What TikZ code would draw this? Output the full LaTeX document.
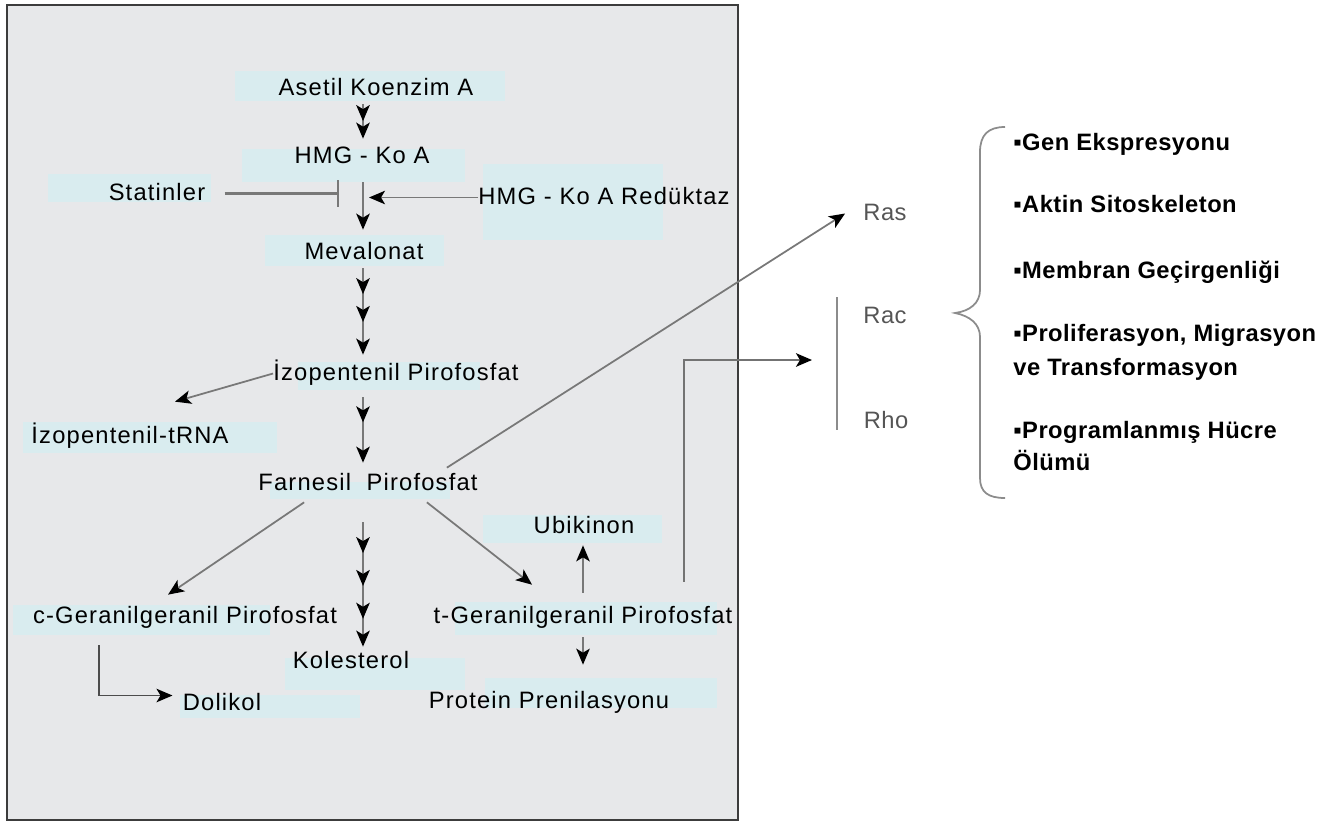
\documentclass[tikz,border=0pt]{standalone}
\usepackage{fontspec}
\usetikzlibrary{arrows.meta,decorations.markings}
\newfontfamily\lblfont{Liberation Sans}[LetterSpace=5]
\newfontfamily\sidefont{Liberation Sans}[LetterSpace=2]
\definecolor{pagegray}{RGB}{231,232,234}
\definecolor{patchcyan}{RGB}{217,236,239}
\definecolor{linegray}{RGB}{120,120,120}
\definecolor{framegray}{RGB}{60,60,60}
\definecolor{smallgray}{RGB}{85,85,85}
\definecolor{bracegray}{RGB}{140,140,140}

\tikzset{
  pathhead/.tip={Stealth[length=0.32cm,width=0.27cm,inset=0.08cm,black]},
  lbl/.style={font=\lblfont\fontsize{13.5}{16}\selectfont, inner sep=0pt,
    text height=0.34cm, text depth=0.08cm, anchor=base},
  gtp/.style={lbl, font=\sidefont\fontsize{13.5}{16}\selectfont, text=smallgray},
  effect/.style={inner sep=0pt, anchor=base west,
    font=\sidefont\bfseries\fontsize{13.5}{16}\selectfont},
  patch/.style={fill=patchcyan},
  conn/.style={draw=linegray, line width=1pt, -pathhead},
  heads/.style={conn, line width=1.1pt, postaction={decorate}, decoration={markings, #1}},
  inhibit/.style={draw=linegray, line width=1.2pt, -{Bar[width=0.54cm]}},
}

\begin{document}
\begin{tikzpicture}[x=0.02cm,y=-0.02cm]
  \useasboundingbox (0,0) rectangle (1337,825);
  \draw[framegray, line width=1.3pt, fill=pagegray] (7,5) rectangle (738,820);

  % label patches
  \fill[patch] (235,71) rectangle (505,101);
  \fill[patch] (242,149) rectangle (465,182);
  \fill[patch] (48,174) rectangle (211,202);
  \fill[patch] (483,164) rectangle (663,240);
  \fill[patch] (265,235) rectangle (444,266);
  \fill[patch] (298,362) rectangle (480,390);
  \fill[patch] (23,422) rectangle (277,453);
  \fill[patch] (270,482) rectangle (450,499);
  \fill[patch] (483,515) rectangle (662,543);
  \fill[patch] (13,605) rectangle (270,635);
  \fill[patch] (455,602) rectangle (717,635);
  \fill[patch] (285,658) rectangle (465,690);
  \fill[patch] (180,695) rectangle (360,718);
  \fill[patch] (485,678) rectangle (717,708);

  \node[lbl] (acetyl) at (376,95) {Asetil Koenzim A};
  \node[lbl] (hmgcoa) at (362,163) {HMG - Ko A};
  \node[lbl] (statin) at (157,200) {Statinler};
  \node[lbl] (reductase) at (604,204) {HMG - Ko A Redüktaz};
  \node[lbl] (meval) at (364,259) {Mevalonat};
  \node[lbl] (ipp) at (396,380) {İzopentenil Pirofosfat};
  \node[lbl] (iptrna) at (130,443) {İzopentenil-tRNA};
  \node[lbl] (fpp) at (368,490) {Farnesil\ \ Pirofosfat};
  \node[lbl] (ubiq) at (584,533) {Ubikinon};
  \node[lbl] (cggpp) at (185,623) {c-Geranilgeranil Pirofosfat};
  \node[lbl] (tggpp) at (583,623) {t-Geranilgeranil Pirofosfat};
  \node[lbl] (chol) at (351,668) {Kolesterol};
  \node[lbl] (dolichol) at (222,710) {Dolikol};
  \node[lbl] (prenyl) at (549,708) {Protein Prenilasyonu};

  \node[gtp] (ras) at (885,220) {Ras};
  \node[gtp] (rac) at (885,323) {Rac};
  \node[gtp] (rho) at (886,428) {Rho};

  \node[effect] (gene) at (1013,150) {▪Gen Ekspresyonu};
  \node[effect] (actin) at (1013,212) {▪Aktin Sitoskeleton};
  \node[effect] (membrane) at (1013,278) {▪Membran Geçirgenliği};
  \node[effect] (prolif) at (1013,341) {▪Proliferasyon, Migrasyon};
  \node[effect] (prolifb) at (1013,375) {ve Transformasyon};
  \node[effect] (apop) at (1013,438) {▪Programlanmış Hücre};
  \node[effect] (apopb) at (1013,470) {Ölümü};

  \coordinate (spine) at (363,0);
  \coordinate (block) at (339,0);
  \coordinate (rhobar) at (837,360);

  % main pathway
  \draw[heads={mark=at position 0.47 with {\arrow{pathhead}}},
    shorten <=0.1cm, shorten >=0.14cm]
    (acetyl.south -| spine) -- (hmgcoa.north -| spine);
  \draw[conn, line width=1.1pt, shorten <=0.3cm, shorten >=0.24cm]
    (hmgcoa.south -| spine) -- (meval.north -| spine);
  \draw[heads={mark=at position 0.31 with {\arrow{pathhead}},
    mark=at position 0.59 with {\arrow{pathhead}}},
    shorten <=0.1cm, shorten >=0.16cm]
    (meval.south -| spine) -- (ipp.north -| spine);
  \draw[heads={mark=at position 0.43 with {\arrow{pathhead}}},
    shorten <=0.26cm, shorten >=0.2cm]
    (ipp.south -| spine) -- (fpp.north -| spine);
  \draw[heads={mark=at position 0.376 with {\arrow{pathhead}},
    mark=at position 0.586 with {\arrow{pathhead}},
    mark=at position 0.796 with {\arrow{pathhead}}},
    shorten <=0.56cm, shorten >=0.08cm]
    (fpp.south -| spine) -- (chol.north -| spine);

  \draw[inhibit, shorten <=0.38cm] (statin.east) -- (statin.east -| block);
  \draw[conn, shorten >=0.12cm] (reductase.west) -- (reductase.west -| spine);

  % branches
  \draw[conn] (ipp.west) -- ([xshift=0.9cm,yshift=0.48cm]iptrna.north);
  \draw[conn] ([xshift=-0.62cm,yshift=0.1cm]fpp.north east) -- ([xshift=-0.36cm]ras.west);
  \draw[conn] ([xshift=0.92cm,yshift=-0.16cm]fpp.south west) -- ([xshift=-0.34cm,yshift=0.22cm]cggpp.north);
  \draw[conn] ([xshift=-1.02cm,yshift=-0.16cm]fpp.south east) -- ([xshift=-1.02cm,yshift=0.42cm]tggpp.north);
  \draw[conn, shorten <=0.26cm, shorten >=0.16cm] (tggpp.north) -- (tggpp.north |- ubiq.south);
  \draw[conn, shorten <=0.2cm, shorten >=0.52cm] (tggpp.south) -- (tggpp.south |- prenyl.north);
  \draw[conn, draw=black!70, shorten >=0.2cm]
    ([xshift=1.32cm,yshift=-0.36cm]cggpp.south west) |- ([yshift=0.16cm]dolichol.west);
  \draw[conn, draw=black!55, line width=1.3pt, shorten >=0.5cm]
    ([xshift=-0.98cm,yshift=0.48cm]tggpp.north east) |- (rhobar);

  % Rac / Rho bar and brace
  \draw[bracegray, line width=0.9pt] (837,297) -- (837,430);
  \draw[bracegray, line width=1pt] (1005,127) .. controls (988,127) and (980,135) .. (980,152)
    -- (980,290) .. controls (980,303) and (970,311) .. (955,313)
    .. controls (970,316) and (980,324) .. (980,337)
    -- (980,478) .. controls (980,492) and (988,498) .. (1005,498);
\end{tikzpicture}
\end{document}
